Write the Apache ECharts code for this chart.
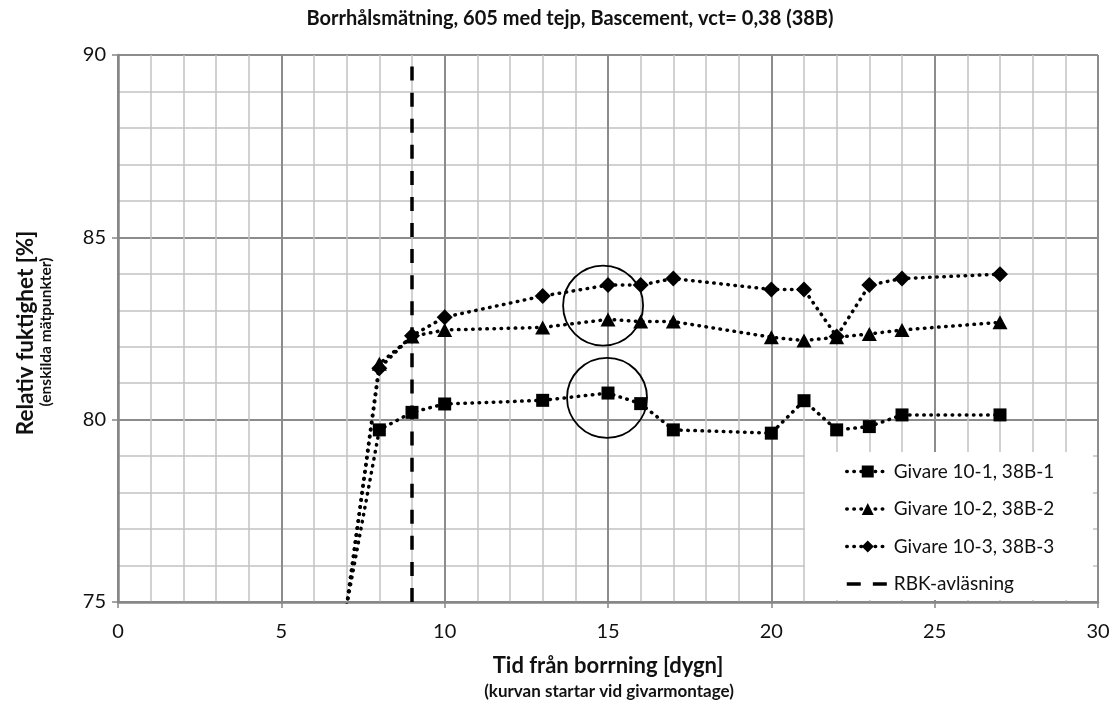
<!DOCTYPE html>
<html>
<head>
<meta charset="utf-8">
<title>Borrhålsmätning</title>
<script src="https://cdn.jsdelivr.net/npm/echarts@6/dist/echarts.min.js"></script>
<style>
  html, body { margin: 0; padding: 0; background: #ffffff; }
  #chart { width: 1114px; height: 713px; }
</style>
</head>
<body>
<div id="chart"></div>
<script>
// Measurement days (days since drilling)
const days = [7, 8, 9, 10, 13, 15, 16, 17, 20, 21, 22, 23, 24, 27];

// Relative humidity [%] per sensor
const givare1 = [74.9, 79.72, 80.2, 80.43, 80.53, 80.73, 80.44, 79.72, 79.63, 80.52, 79.72, 79.81, 80.13, 80.13];
const givare2 = [74.9, 81.53, 82.28, 82.46, 82.53, 82.75, 82.69, 82.69, 82.26, 82.17, 82.26, 82.35, 82.46, 82.67];
const givare3 = [74.9, 81.41, 82.3, 82.81, 83.39, 83.69, 83.69, 83.87, 83.57, 83.57, 82.28, 83.69, 83.87, 83.99];

const seriesNames = ['Givare 10-1, 38B-1', 'Givare 10-2, 38B-2', 'Givare 10-3, 38B-3', 'RBK-avläsning'];

// RBK reading day (vertical dashed marker)
const rbkDay = 9;
const rbkSpan = [75, 90];

// Highlighted readings (ring centres, day / RH)
const ringCentres = [[14.85, 83.13], [14.97, 80.6]];

// Axis ranges: min, max, step
const xRange = [0, 30, 5];
const yRange = [75, 90, 5];

const FONT = 'Lato, "Open Sans", sans-serif';
const AXIS_GREY = '#868686';
const INK = '#111111';

function pairs(xs, ys) {
  return xs.map((x, i) => {
    const item = { value: [x, ys[i]] };
    if (ys[i] < yRange[0]) item.symbol = 'none';
    return item;
  });
}

const dotted = { color: '#000', width: 3.5, type: [0.5, 6.6], cap: 'round' };
const dashed = { color: '#000', width: 3.5, type: [14, 12.07] };

function axisCommon(range) {
  return {
    type: 'value',
    min: range[0], max: range[1], interval: range[2],
    axisLine: { show: true, onZero: false, lineStyle: { color: AXIS_GREY, width: 2.5 } },
    axisTick: { show: true, length: 6, lineStyle: { color: AXIS_GREY, width: 1.5 } },
    splitLine: { show: true, lineStyle: { color: '#8c8c8c', width: 2 } },
    minorTick: { show: false, splitNumber: 5 },
    minorSplitLine: { show: true, lineStyle: { color: '#c2c2c2', width: 1.5 } }
  };
}

const chart = echarts.init(document.getElementById('chart'), null, { renderer: 'canvas' });

chart.setOption({
  animation: false,
  backgroundColor: '#ffffff',
  textStyle: { fontFamily: FONT },
  grid: { left: 118, right: 16, top: 55, bottom: 111 },
  xAxis: Object.assign(axisCommon(xRange), {
    axisLabel: { fontSize: 20, color: INK, margin: 20, fontFamily: FONT }
  }),
  yAxis: Object.assign(axisCommon(yRange), {
    axisLabel: { fontSize: 20, color: INK, margin: 12, fontFamily: FONT }
  }),
  legend: {
    data: [
      { name: seriesNames[0], lineStyle: dotted },
      { name: seriesNames[1], lineStyle: dotted },
      { name: seriesNames[2], lineStyle: dotted },
      { name: seriesNames[3], lineStyle: dashed,
        itemStyle: { color: 'rgba(0,0,0,0)', borderColor: 'rgba(0,0,0,0)', borderWidth: 0 } }
    ],
    orient: 'vertical',
    left: 840,
    top: 455.5,
    itemWidth: 42,
    itemHeight: 15,
    itemGap: 15.5,
    textStyle: { fontSize: 19, color: INK, fontFamily: FONT, lineHeight: 22 },
    z: 5
  },
  graphic: {
    elements: [
      // white panel behind the legend
      { type: 'rect', left: 805, top: 452, shape: { width: 288, height: 148 },
        style: { fill: '#ffffff' }, z: 3, silent: true },
      { type: 'text', x: 570, y: 19,
        style: { text: 'Borrhålsmätning, 605 med tejp, Bascement, vct= 0,38 (38B)',
          font: 'bold 20px ' + FONT, fill: INK, textAlign: 'center', textVerticalAlign: 'middle' } },
      { type: 'text', x: 608, y: 666,
        style: { text: 'Tid från borrning [dygn]',
          font: 'bold 22px ' + FONT, fill: INK, textAlign: 'center', textVerticalAlign: 'middle' } },
      { type: 'text', x: 609, y: 692,
        style: { text: '(kurvan startar vid givarmontage)',
          font: 'bold 17px ' + FONT, fill: INK, textAlign: 'center', textVerticalAlign: 'middle' } },
      { type: 'text', x: 26, y: 333, rotation: Math.PI / 2,
        style: { text: 'Relativ fuktighet [%]',
          font: 'bold 22.5px ' + FONT, fill: INK, textAlign: 'center', textVerticalAlign: 'middle' } },
      { type: 'text', x: 46, y: 332, rotation: Math.PI / 2,
        style: { text: '(enskilda mätpunkter)',
          font: 'bold 15.5px ' + FONT, fill: INK, textAlign: 'center', textVerticalAlign: 'middle' } }
    ]
  },
  series: [
    {
      name: seriesNames[0], type: 'line', data: pairs(days, givare1),
      symbol: 'rect', symbolSize: 13,
      itemStyle: { color: '#000' }, lineStyle: dotted, z: 2
    },
    {
      name: seriesNames[1], type: 'line', data: pairs(days, givare2),
      symbol: 'triangle', symbolSize: [15, 14],
      itemStyle: { color: '#000' }, lineStyle: dotted, z: 2
    },
    {
      name: seriesNames[2], type: 'line', data: pairs(days, givare3),
      symbol: 'diamond', symbolSize: 16,
      itemStyle: { color: '#000' }, lineStyle: dotted, z: 2
    },
    {
      name: seriesNames[3], type: 'line',
      data: [[rbkDay, rbkSpan[0]], [rbkDay, rbkSpan[1]]],
      symbol: 'none', itemStyle: { color: '#000' },
      lineStyle: dashed, z: 1
    },
    {
      type: 'scatter', data: ringCentres, symbol: 'circle', symbolSize: 80,
      itemStyle: { color: 'rgba(0,0,0,0)', borderColor: '#000', borderWidth: 1.8, opacity: 1 },
      silent: true, z: 3
    }
  ]
});
</script>
</body>
</html>
